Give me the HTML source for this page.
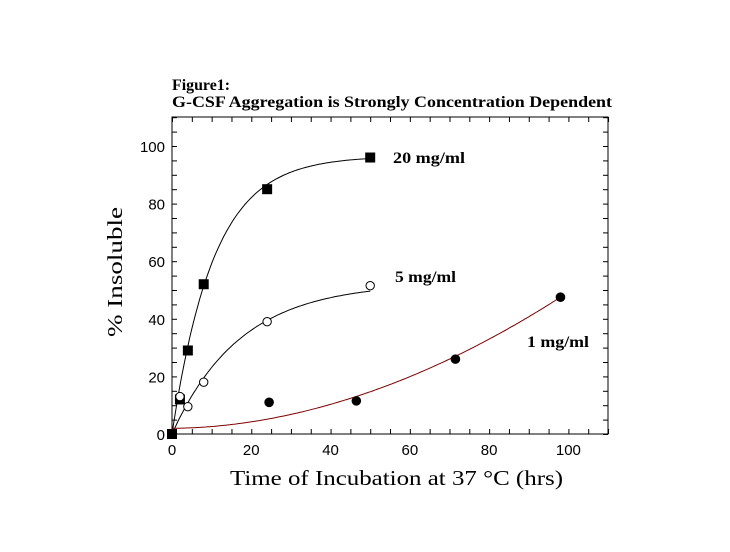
<!DOCTYPE html>
<html><head><style>body{margin:0;background:#fff}</style></head><body>
<svg id="s" width="730" height="552" xmlns="http://www.w3.org/2000/svg" style="display:block">
<rect x="0" y="0" width="730" height="552" fill="#fff"/>
<text x="172" y="90" font-family="Liberation Serif,serif" font-weight="bold" font-size="16" textLength="58" lengthAdjust="spacingAndGlyphs">Figure1:</text>
<text x="172" y="107" font-family="Liberation Serif,serif" font-weight="bold" font-size="16" textLength="440" lengthAdjust="spacingAndGlyphs">G-CSF Aggregation is Strongly Concentration Dependent</text>
<rect x="172" y="117" width="436" height="317" fill="none" stroke="#000" stroke-width="1"/>
<g id="ticks" stroke="#000" stroke-width="1"></g>
<g id="lab" font-family="Liberation Sans,sans-serif" font-size="15" fill="#000"></g>
<g id="curves" fill="none" stroke-width="1"></g>
<g id="marks"></g>
<text x="230" y="485" font-family="Liberation Serif,serif" font-size="21" textLength="333" lengthAdjust="spacingAndGlyphs">Time of Incubation at 37 °C (hrs)</text>
<text transform="translate(122,337) rotate(-90)" font-family="Liberation Serif,serif" font-size="21" textLength="130" lengthAdjust="spacingAndGlyphs">% Insoluble</text>
<text x="393" y="163" font-family="Liberation Serif,serif" font-weight="bold" font-size="16" textLength="72" lengthAdjust="spacingAndGlyphs">20 mg/ml</text>
<text x="395" y="282" font-family="Liberation Serif,serif" font-weight="bold" font-size="16" textLength="61" lengthAdjust="spacingAndGlyphs">5 mg/ml</text>
<text x="527" y="347" font-family="Liberation Serif,serif" font-weight="bold" font-size="16" textLength="62" lengthAdjust="spacingAndGlyphs">1 mg/ml</text>
</svg>
<script>
var NS="http://www.w3.org/2000/svg";
function X(t){return 172+t*3.964}function Y(v){return 434-v*2.88}
function el(p,n,a){var e=document.createElementNS(NS,n);for(var k in a)e.setAttribute(k,a[k]);document.getElementById(p).appendChild(e);return e}
for(var t=0;t<=110;t+=5){var x=X(t)+0.5;el("ticks","line",{x1:x,y1:434,x2:x,y2:429});el("ticks","line",{x1:x,y1:117,x2:x,y2:122});
 if(t%20==0&&t<=100){var e=el("lab","text",{x:X(t),y:455,"text-anchor":"middle"});e.textContent=t;}}
for(var v=0;v<=110;v+=5){var y=Y(v)+0.5;el("ticks","line",{x1:172,y1:y,x2:177,y2:y});el("ticks","line",{x1:608,y1:y,x2:603,y2:y});
 if(v%20==0&&v<=100){var e=el("lab","text",{x:165,y:Y(v)+6,"text-anchor":"end"});e.textContent=v;}}
function curve(f,t1,col){var d="";for(var t=0;t<=t1;t+=0.5){d+=(t?"L":"M")+X(t).toFixed(1)+","+Y(f(t)).toFixed(1);}el("curves","path",{d:d,stroke:col});}
curve(function(t){return 96.5*(1-Math.exp(-0.095*t))},50,"#000");
curve(function(t){return 52.5*(1-Math.exp(-0.058*t))},50,"#000");
curve(function(t){return 2+45.5*Math.pow(t/98,1.9)},98,"#800000");
[[0,0],[2,12],[4,29],[8,52],[24,85],[50,96]].forEach(function(p){el("marks","rect",{x:X(p[0])-5,y:Y(p[1])-5,width:10,height:10,fill:"#000"})});
[[2,13],[4,9.5],[8,18],[24,39],[50,51.5]].forEach(function(p){el("marks","circle",{cx:X(p[0]),cy:Y(p[1]),r:4.2,fill:"#fff",stroke:"#000"})});
[[24.5,11],[46.5,11.5],[71.5,26],[98,47.5]].forEach(function(p){el("marks","circle",{cx:X(p[0]),cy:Y(p[1]),r:4.8,fill:"#000"})});
</script>
</body></html>
